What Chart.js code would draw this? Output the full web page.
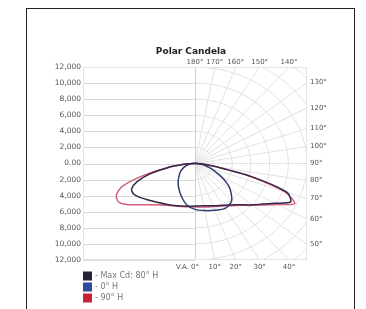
<!DOCTYPE html>
<html>
<head>
<meta charset="utf-8">
<script src="https://cdn.jsdelivr.net/npm/chart.js@4.4.1/dist/chart.umd.min.js"></script>
<style>
  body { margin: 0; background: #fff; }
  #wrap { position: relative; width: 366px; height: 309px; overflow: hidden; }
  #frame { position: absolute; left: 26px; top: 8px; width: 327px; height: 320px; border: 1.5px solid #222; }
  canvas { position: absolute; left: 0; top: 0; }
</style>
</head>
<body>
<div id="wrap">
  <div id="frame"></div>
  <canvas id="polarChart" width="366" height="309"></canvas>
</div>
<script>
// vertical angles (0 = nadir, 180 = straight up)
const vAngles = [0, 10, 20, 30, 40, 50, 55, 60, 65, 70, 75, 80, 85, 90, 120, 180];

// candela values, right half / left half of each plane
const maxCdRight = [5300, 5350, 5600, 6000, 6700, 8000, 8800, 9900, 11300, 10500, 6200, 2200, 800, 250, 50, 0];
const maxCdLeft  = [5300, 5400, 5600, 5900, 6300, 6900, 7300, 7600, 7500, 6600, 5000, 3000, 1200, 300, 50, 0];
const zeroHRight = [5700, 5950, 6200, 6450, 6100, 4900, 4100, 3200, 2400, 1800, 1300, 900, 500, 200, 0, 0];
const zeroHLeft  = [5700, 5200, 4300, 3500, 2800, 2200, 1950, 1700, 1450, 1200, 950, 700, 400, 200, 0, 0];
const ninetyHRight = [5400, 5500, 5700, 6100, 6800, 8100, 9000, 10200, 11800, 10200, 6000, 2400, 900, 300, 50, 0];
const ninetyHLeft  = [5400, 5450, 5650, 6000, 6700, 8000, 8900, 9500, 9300, 8300, 5700, 3000, 1200, 300, 50, 0];

const seriesNames = ["- Max Cd: 80\u00b0 H", "- 0\u00b0 H", "- 90\u00b0 H"];
const gridAngles = [0, 10, 20, 30, 40, 50, 60, 70, 80, 90, 100, 110, 120, 130, 140, 150, 160, 170, 180];
const ringValues = [2000, 4000, 6000, 8000, 10000, 12000, 14000, 16000, 18000, 20000, 22000];

function toPoints(right, left) {
    const pts = [];
    for (let i = vAngles.length - 1; i >= 0; i--) {
        const a = vAngles[i] * Math.PI / 180;
        pts.push({ x: -left[i] * Math.sin(a), y: -left[i] * Math.cos(a) });
    }
    for (let i = 1; i < vAngles.length; i++) {
        const a = vAngles[i] * Math.PI / 180;
        pts.push({ x: right[i] * Math.sin(a), y: -right[i] * Math.cos(a) });
    }
    return pts;
}

const polarGrid = {
    id: 'polarGrid',
    beforeDatasetsDraw(chart) {
        const ctx = chart.ctx;
        const area = chart.chartArea;
        const xs = chart.scales.x, ys = chart.scales.y;
        const cx = xs.getPixelForValue(0), cy = ys.getPixelForValue(0);
        const sx = (xs.getPixelForValue(1000) - cx) / 1000;
        const sy = (cy - ys.getPixelForValue(1000)) / 1000;

        ctx.save();
        ctx.lineWidth = 1;

        // horizontal lines, left half
        ctx.strokeStyle = '#d9d9d9';
        ys.ticks.forEach(t => {
            const y = Math.round(ys.getPixelForValue(t.value)) + 0.5;
            ctx.beginPath();
            ctx.moveTo(area.left, y);
            ctx.lineTo(cx, y);
            ctx.stroke();
        });

        // polar grid, right half
        ctx.save();
        ctx.beginPath();
        ctx.rect(cx, area.top, area.right - cx, area.bottom - area.top);
        ctx.clip();
        ctx.strokeStyle = '#e2e2e2';
        ringValues.forEach(r => {
            ctx.beginPath();
            ctx.ellipse(cx, cy, r * sx, r * sy, 0, -Math.PI / 2, Math.PI / 2);
            ctx.stroke();
        });
        gridAngles.forEach(g => {
            const a = g * Math.PI / 180;
            ctx.beginPath();
            ctx.moveTo(cx, cy);
            ctx.lineTo(cx + Math.sin(a) * sx * 40000, cy + Math.cos(a) * sy * 40000);
            ctx.stroke();
        });
        ctx.restore();

        // centre line and frame
        ctx.strokeStyle = '#cfcfcf';
        ctx.beginPath();
        ctx.moveTo(Math.round(cx) + 0.5, area.top);
        ctx.lineTo(Math.round(cx) + 0.5, area.bottom);
        ctx.stroke();
        ctx.strokeStyle = '#e4e4e4';
        ctx.strokeRect(area.left + 0.5, area.top + 0.5, area.right - area.left - 1, area.bottom - area.top - 1);

        // angle labels
        ctx.fillStyle = '#555';
        ctx.font = '7px "DejaVu Sans"';
        gridAngles.forEach(g => {
            const a = g * Math.PI / 180;
            const dx = Math.sin(a) * sx, dy = Math.cos(a) * sy;
            let t = Infinity, side = '';
            if (dx > 1e-9 && (area.right - cx) / dx < t) { t = (area.right - cx) / dx; side = 'r'; }
            if (dy > 1e-9 && (area.bottom - cy) / dy < t) { t = (area.bottom - cy) / dy; side = 'b'; }
            if (dy < -1e-9 && (area.top - cy) / dy < t) { t = (area.top - cy) / dy; side = 't'; }
            const px = cx + dx * t, py = cy + dy * t;
            const txt = g + '\u00b0';
            ctx.textBaseline = 'middle';
            if (side === 'r') {
                ctx.textAlign = 'left';
                ctx.fillText(txt, area.right + 3, py);
            } else if (side === 'b') {
                ctx.textAlign = 'center';
                ctx.fillText(txt, px, area.bottom + 7);
                if (g === 0) {
                    ctx.textAlign = 'right';
                    ctx.fillText('V.A.', px - 6, area.bottom + 7);
                }
            } else {
                ctx.textAlign = 'center';
                ctx.fillText(txt, px, area.top - 5);
            }
        });
        ctx.restore();
    },
    afterDraw(chart) {
        const ctx = chart.ctx;
        ctx.save();
        ctx.fillStyle = '#222';
        ctx.font = 'bold 9px "DejaVu Sans"';
        ctx.textAlign = 'center';
        ctx.textBaseline = 'middle';
        ctx.fillText('Polar Candela', 191, 52);

        // legend
        ctx.font = '8px "DejaVu Sans"';
        ctx.textAlign = 'left';
        const rows = [276, 287, 298];
        chart.data.datasets.forEach((ds, i) => {
            ctx.fillStyle = ds.backgroundColor;
            ctx.fillRect(83, rows[i] - 4.5, 9, 9);
            ctx.fillStyle = '#777';
            ctx.fillText(ds.label, 95, rows[i]);
        });
        ctx.restore();
    }
};

function renderChart() {
    const ctx = document.getElementById('polarChart').getContext('2d');

    new Chart(ctx, {
        type: 'scatter',
        data: {
            datasets: [{
                label: seriesNames[0],
                data: toPoints(maxCdRight, maxCdLeft),
                borderColor: '#33284a',
                backgroundColor: '#2a2238'
            }, {
                label: seriesNames[1],
                data: toPoints(zeroHRight, zeroHLeft),
                borderColor: '#2f3d70',
                backgroundColor: '#2c4aa0'
            }, {
                label: seriesNames[2],
                data: toPoints(ninetyHRight, ninetyHLeft),
                borderColor: '#d2607c',
                backgroundColor: '#cc2038'
            }]
        },
        options: {
            responsive: false,
            animation: false,
            devicePixelRatio: 1,
            layout: { padding: { left: 48, right: 59, top: 67, bottom: 49 } },
            elements: {
                line: { borderWidth: 1.5, tension: 0.25, fill: false },
                point: { radius: 0 }
            },
            datasets: { scatter: { showLine: true } },
            plugins: {
                legend: { display: false },
                title: { display: false },
                tooltip: { enabled: false }
            },
            scales: {
                x: {
                    display: false,
                    min: -12000,
                    max: 12000
                },
                y: {
                    min: -12000,
                    max: 12000,
                    afterFit: s => { s.width = 35; },
                    border: { display: false },
                    grid: { display: false, drawTicks: false },
                    ticks: {
                        stepSize: 2000,
                        padding: 2,
                        color: '#555',
                        font: { family: 'DejaVu Sans', size: 7.5 },
                        callback: v => v === 0 ? '0.00' : Math.abs(v).toLocaleString('en-US')
                    }
                }
            }
        },
        plugins: [polarGrid]
    });
}

renderChart();
</script>
</body>
</html>
